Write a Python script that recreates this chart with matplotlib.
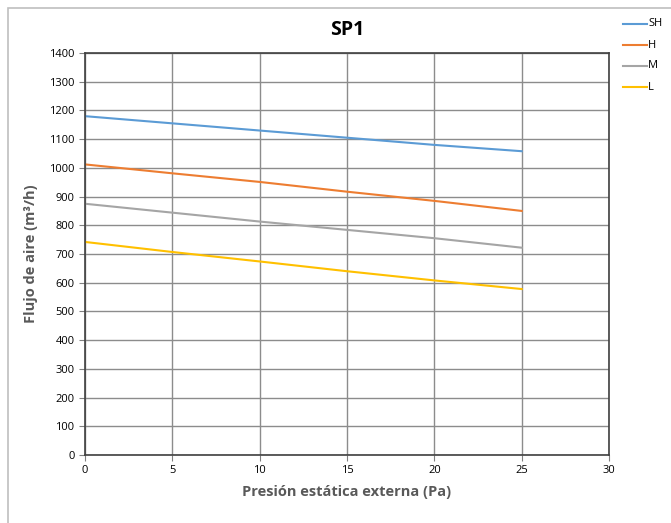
"""SP1 airflow vs external static pressure."""
import matplotlib
matplotlib.use('Agg')
import matplotlib.pyplot as plt
from matplotlib.patches import Rectangle
from matplotlib.lines import Line2D

pressure = [0, 5, 10, 15, 20, 25]
flow_sh = [1180, 1155, 1130, 1105, 1080, 1058]
flow_h = [1012, 981, 951, 917, 885, 850]
flow_m = [875, 844, 813, 784, 755, 722]
flow_l = [742, 707, 674, 640, 608, 578]
series_names = ['SH', 'H', 'M', 'L']
series_colors = ['#5B9BD5', '#ED7D31', '#A5A5A5', '#FFC000']

W, H = 671, 523
fig = plt.figure(figsize=(W / 100, H / 100), dpi=100)
fig.patch.set_facecolor('white')
plt.rcParams['font.family'] = ['Open Sans', 'DejaVu Sans']

# outer chart border (runs off the right/bottom edges like the source)
fig.add_artist(Rectangle((8 / W, -0.1), 1.2, 1 - 8 / H + 0.1, transform=fig.transFigure,
                         fill=False, edgecolor='#BFBFBF', linewidth=1.2))

ax = fig.add_axes([85 / W, 1 - 455 / H, (609 - 85) / W, (455 - 53) / H])
for name, ys, c in zip(series_names, [flow_sh, flow_h, flow_m, flow_l], series_colors):
    ax.plot(pressure, ys, color=c, linewidth=1.5, label=name)

ax.set_xlim(0, 30)
ax.set_ylim(0, 1400)
ax.set_xticks(range(0, 31, 5))
ax.set_yticks(range(0, 1401, 100))
ax.grid(True, color='#8C8C8C', linewidth=1.0)
ax.set_axisbelow(True)
for s in ax.spines.values():
    s.set_color('#404040')
    s.set_linewidth(1.2)
ax.tick_params(axis='both', labelsize=8, length=4, color='#808080', labelcolor='black')

ax.set_xlabel('Presión estática externa (Pa)', fontsize=10.5, fontweight='bold', color='#595959',
              labelpad=6)
ax.set_ylabel('Flujo de aire (m³/h)', fontsize=10.5, fontweight='bold', color='#595959',
              labelpad=8)
fig.text(347 / W, 1 - 30 / H, 'SP1', fontsize=14, fontweight='bold', ha='center', va='center')

# legend at top right
for i, (name, c) in enumerate(zip(series_names, series_colors)):
    yy = 1 - (24 + i * 21) / H
    fig.add_artist(Line2D([623 / W, 647 / W], [yy, yy], transform=fig.transFigure,
                          color=c, linewidth=1.5))
    fig.text(648 / W, yy, name, fontsize=8, ha='left', va='center')

fig.savefig('out.png', dpi=100, facecolor='white')
plt.close(fig)
